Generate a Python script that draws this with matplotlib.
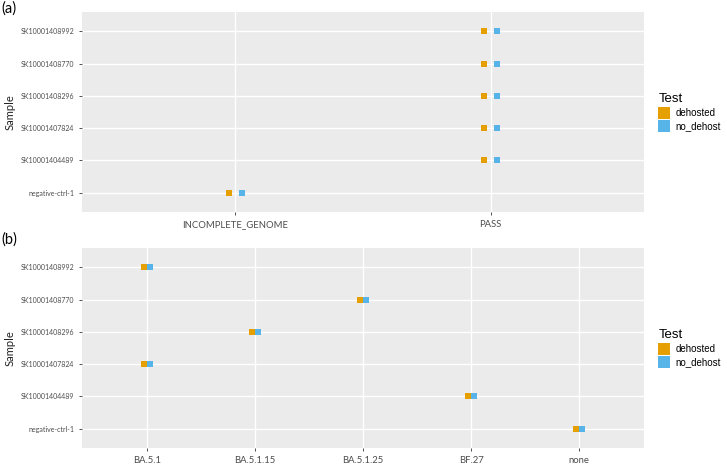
import matplotlib
matplotlib.use("Agg")
import matplotlib.pyplot as plt
from matplotlib.lines import Line2D

samples = ["negative-ctrl-1", "SK10001404489", "SK10001407824",
           "SK10001408296", "SK10001408770", "SK10001408992"]
tests = ["dehosted", "no_dehost"]
test_colors = {"dehosted": "#E69F00", "no_dehost": "#56B4E9"}

qc_levels = ["INCOMPLETE_GENOME", "PASS"]
qc_status = ["INCOMPLETE_GENOME", "PASS", "PASS", "PASS", "PASS", "PASS"]

lineage_levels = ["BA.5.1", "BA.5.1.15", "BA.5.1.25", "BF.27", "none"]
lineages = ["none", "BF.27", "BA.5.1", "BA.5.1.15", "BA.5.1.25", "BA.5.1"]

W, H = 727, 466
BG = "#EBEBEB"
TXT = "#4D4D4D"
dodge = 0.025


def panel(rect_px, levels, values):
    l, t, r, b = rect_px
    ax = fig.add_axes([l / W, 1 - b / H, (r - l) / W, (b - t) / H])
    ax.set_facecolor(BG)
    for sp in ax.spines.values():
        sp.set_visible(False)
    xs = [levels.index(v) for v in values]
    ys = list(range(len(samples)))
    for k, test in enumerate(tests):
        off = -dodge if k == 0 else dodge
        ax.scatter([x + off for x in xs], ys, marker="s", s=14,
                   color=test_colors[test], linewidths=0, zorder=3)
    ax.set_xticks(range(len(levels)))
    ax.set_xticklabels(levels, family="Lato", fontsize=6.8, color=TXT)
    ax.set_yticks(ys)
    ax.set_yticklabels(samples, family="Lato", fontsize=5, color=TXT)
    ax.set_xlim(-0.6, len(levels) - 1 + 0.6)
    ax.set_ylim(-0.6, len(samples) - 1 + 0.6)
    ax.grid(True, color="white", linewidth=1.0)
    ax.set_axisbelow(True)
    ax.tick_params(length=2.5, width=0.6, color="#333333", pad=3)
    # y label placed by hand so it sits at the left edge like the original
    fig.text(10 / W, 1 - (t + b) / 2 / H, "Sample", family="Lato", fontsize=8,
             color="#222222", rotation=90, ha="center", va="center")
    handles = [Line2D([], [], marker="s", linestyle="", markersize=8,
                      markerfacecolor=test_colors[t], markeredgewidth=0)
               for t in tests]
    leg = ax.legend(handles, tests, title="Test", loc="center left",
                    bbox_to_anchor=(1.02, 0.5), frameon=False,
                    prop={"family": "Liberation Sans", "size": 7},
                    handlelength=1.0, handletextpad=0.7, labelspacing=0.35,
                    borderaxespad=0)
    leg.get_title().set_fontsize(9.5)
    leg.get_title().set_family("Liberation Sans")
    leg._legend_box.align = "left"
    return ax


fig = plt.figure(figsize=(W / 100, H / 100), dpi=100)
ax_a = panel((82, 12, 644, 212), qc_levels, qc_status)
ax_b = panel((82, 248, 644, 448), lineage_levels, lineages)
fig.text(1 / W, 1 - 9 / H, "(a)", family="Lato", fontsize=10.5, va="center")
fig.text(1 / W, 1 - 240 / H, "(b)", family="Lato", fontsize=10.5, va="center")

fig.savefig("out.png", dpi=100)
